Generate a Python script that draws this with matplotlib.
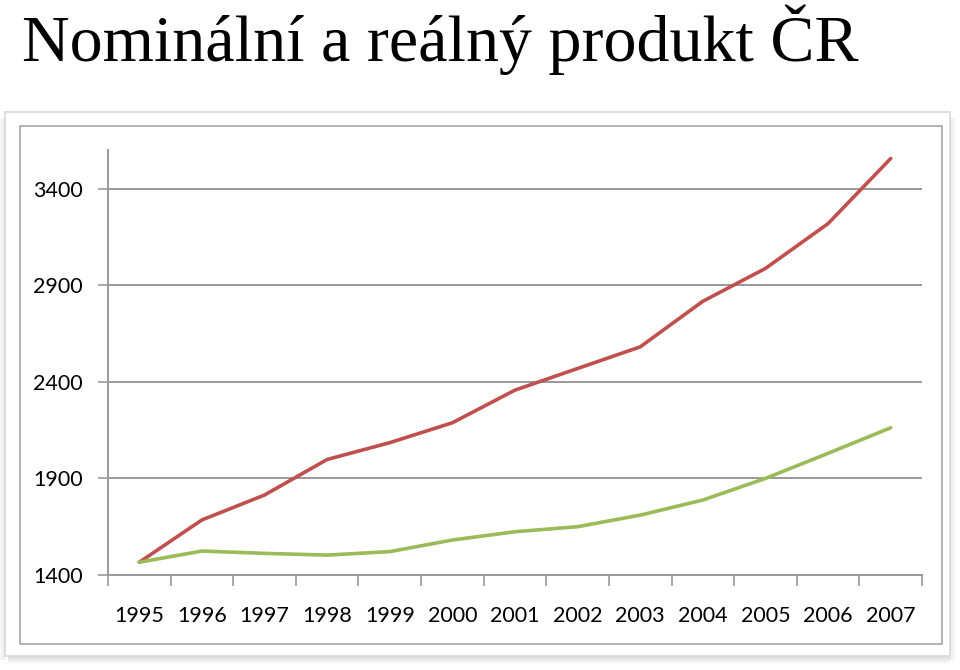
import matplotlib
matplotlib.use("Agg")
from matplotlib import pyplot as plt
from matplotlib.patches import Rectangle
import numpy as np

years = ['1995', '1996', '1997', '1998', '1999', '2000', '2001',
         '2002', '2003', '2004', '2005', '2006', '2007']
nominal = [1466, 1685, 1814, 1998, 2085, 2188, 2357,
           2469, 2581, 2817, 2987, 3219, 3556]
real = [1466, 1524, 1512, 1503, 1521, 1581, 1624,
        1650, 1710, 1788, 1900, 2030, 2162]
yticks = [1400, 1900, 2400, 2900, 3400]

W, H = 960, 670
fig = plt.figure(figsize=(9.6, 6.7), dpi=100)
fig.patch.set_facecolor('white')


def px_rect(x0, y0, x1, y1, **kw):
    # rectangle given in pixel coords (top-left origin)
    return Rectangle((x0 / W, 1 - y1 / H), (x1 - x0) / W, (y1 - y0) / H,
                     transform=fig.transFigure, **kw)


# shadow under the card
for i in range(12):
    a = 0.35 * (1 - i / 12)
    fig.patches.append(px_rect(8, 652 + i, 950, 653 + i, facecolor='#707070',
                               edgecolor='none', alpha=a, zorder=0))
for i in range(6):
    a = 0.15 * (1 - i / 6)
    fig.patches.append(px_rect(950 + i, 118, 951 + i, 660, facecolor='#808080',
                               edgecolor='none', alpha=a, zorder=0))
    fig.patches.append(px_rect(4 - i, 118, 5 - i, 660, facecolor='#808080',
                               edgecolor='none', alpha=a, zorder=0))
# card and inner border
fig.patches.append(px_rect(5, 112, 950, 656, facecolor='white',
                           edgecolor='#d8d8d8', lw=1.2, zorder=1))
fig.patches.append(px_rect(19.5, 126, 941.5, 643.5, facecolor='white',
                           edgecolor='#a6a6a6', lw=1.2, zorder=2))

fig.text(22 / W, 1 - 61 / H, 'Nominální a reálný produkt ČR',
         fontsize=47.5, family='Liberation Serif', color='black',
         ha='left', va='baseline')

ax = fig.add_axes([108 / W, 1 - 575 / H, (922 - 108) / W, (575 - 150) / H])
ax.set_facecolor('none')
ax.set_zorder(3)

x = np.arange(len(years))
ax.plot(x, nominal, color='#C0504D', lw=2.6, solid_capstyle='round', zorder=4)
ax.plot(x, real, color='#9BBB59', lw=2.6, solid_capstyle='round', zorder=4)

ax.set_xlim(-0.5, len(years) - 0.5)
ax.set_ylim(1400, 3600)
ax.set_yticks(yticks)
ax.set_yticklabels([str(v) for v in yticks])
ax.grid(axis='y', color='#999999', lw=1.4)
ax.set_axisbelow(True)

ax.set_xticks(np.arange(-0.5, len(years), 1.0))
ax.set_xticklabels([])
ax.set_xticks(x, minor=True)
ax.set_xticklabels(years, minor=True)
ax.tick_params(axis='x', which='major', length=8, width=1.2, color='#999999')
ax.tick_params(axis='x', which='minor', length=0, pad=22)
ax.tick_params(axis='y', length=7, width=1.2, color='#999999', pad=11)

for lab in ax.get_xticklabels(minor=True) + ax.get_yticklabels():
    lab.set_family('Lato')
    lab.set_fontsize(15.5)
    lab.set_color('black')

for s in ['top', 'right']:
    ax.spines[s].set_visible(False)
for s in ['left', 'bottom']:
    ax.spines[s].set_color('#999999')
    ax.spines[s].set_linewidth(1.4)

fig.savefig('out.png', dpi=100)
